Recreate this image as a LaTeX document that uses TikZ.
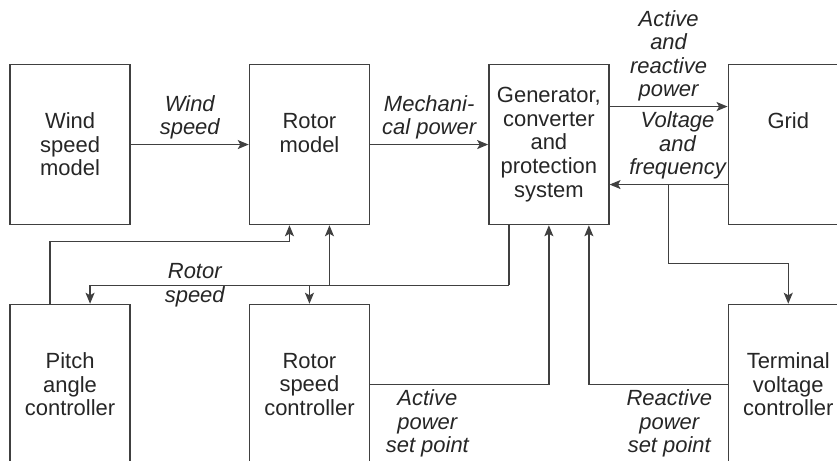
\documentclass[tikz,border=0pt]{standalone}
\usepackage{fontspec}
\setmainfont{Liberation Sans}
\usetikzlibrary{arrows.meta,calc}

\begin{document}
\begin{tikzpicture}[
			block/.style={draw=black!75,line width=.8pt,rectangle,minimum width=2.4cm,minimum height=3.2cm,text width=2.3cm,align=center,inner sep=0pt,text=black!85,font=\fontsize{12.5}{13.4}\selectfont},
			lbl/.style={align=center,inner sep=2.5pt,text=black!85,font=\fontsize{12.5}{13.4}\selectfont\itshape},
			wire/.style={draw=black!75,line width=.8pt},
			sig/.style={wire,-{Stealth[length=2.2mm,width=1.8mm,inset=.5mm]}}]
			\useasboundingbox (0,0) rectangle (16.74,-9.22);
			\matrix (plant) [row sep=1.57cm,column sep=2.36cm,inner sep=0pt,anchor=north west] at (.18,-1.27) {
				\node (wind) [block] {Wind\\speed\\model};
				&
				\node (rotor) [block] {Rotor\\model\\\mbox{}};
				&
				\node (gen) [block] {Generator,\\converter\\and\\protection\\system};
				&
				\node (grid) [block] {Grid\\\mbox{}\\\mbox{}};
				\\
				\node (pitch) [block] {Pitch\\angle\\controller};
				&
				\node (rsc) [block] {Rotor\\speed\\controller};
				&
				&
				\node (tvc) [block] {Terminal\\voltage\\controller};
				\\
			};
			% forward chain along the top row
			\draw[sig] (wind) -- node[lbl,above] {Wind\\speed} (rotor);
			\draw[sig] (rotor) -- node[lbl,above] {Mechani-\\cal power} (gen);
			\draw[sig] ([yshift=.76cm]gen.east) -- node[lbl,above] {Active\\and\\reactive\\power} ([yshift=.76cm]grid.west);
			\draw[sig] ([yshift=-.8cm]grid.west) -- node[lbl,above,xshift=.18cm] {Voltage\\and\\frequency} ([yshift=-.8cm]gen.east);
			% measured voltage to the terminal controller
			\coordinate (vf) at ($([yshift=-.8cm]gen.east)!.5!([yshift=-.8cm]grid.west)$);
			\draw[sig] (vf) -- ++(0,-1.58) -| (tvc.north);
			% rotor speed feedback
			\coordinate (bus) at ([xshift=-.8cm,yshift=-1.2cm]gen.south);
			\coordinate (pin) at ([xshift=.4cm]pitch.north);
			\coordinate (rin) at ([xshift=.4cm]rotor.south);
			\draw[wire] ([xshift=-.8cm]gen.south) -- (bus);
			\draw[sig] (bus) -- node[lbl,pos=.75] {Rotor\\speed} (pin |- bus) -- (pin);
			\draw[sig] (rsc.north |- bus) -- (rsc.north);
			\draw[sig] (rin |- bus) -- (rin);
			% controller outputs
			\draw[sig] ([xshift=-.4cm]pitch.north) -- ++(0,1.24) -| ([xshift=-.4cm]rotor.south);
			\draw[sig] (rsc.east) -| node[lbl,below,pos=.16] {Active\\power\\set point} (gen.south);
			\draw[sig] (tvc.west) -| node[lbl,below,pos=.21] {Reactive\\power\\set point} ([xshift=.8cm]gen.south);
		\end{tikzpicture}
\end{document}
